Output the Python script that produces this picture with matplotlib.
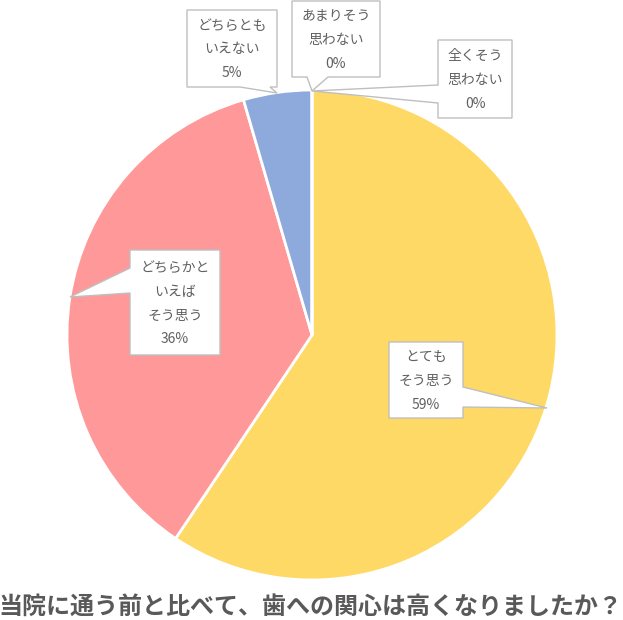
import matplotlib
matplotlib.use("Agg")
import matplotlib.pyplot as plt
from matplotlib.patches import Polygon

plt.rcParams['font.family'] = ['Noto Sans CJK JP', 'DejaVu Sans']

categories = ["とても\nそう思う", "どちらかと\nいえば\nそう思う", "どちらとも\nいえない", "あまりそう\n思わない", "全くそう\n思わない"]
counts = [79, 48, 6, 0, 0]
colors = ["#FFD966", "#FF9999", "#8EA9DB", "#A9D18E", "#F4B183"]
title = "当院に通う前と比べて、歯への関心は高くなりましたか？"

W, H = 623, 620
fig = plt.figure(figsize=(W / 100, H / 100), dpi=100)
ax = fig.add_axes([0, 0, 1, 1])

cx, cy_img, R = 312, 335, 245
ax.pie(counts, colors=colors, startangle=90, counterclock=False,
       center=(cx, H - cy_img), radius=R,
       wedgeprops=dict(edgecolor='white', linewidth=2), frame=True)
ax.set_xlim(0, W)
ax.set_ylim(0, H)
ax.set_aspect('equal')
ax.axis('off')

total = sum(counts)
pcts = [f"{round(c / total * 100)}%" for c in counts]

def callout(box, base, tip, side, text):
    x0, y0, x1, y1 = box
    b0, b1 = base
    if side == 'bottom':
        pts = [(x0, y0), (x1, y0), (x1, y1), (b1, y1), tip, (b0, y1), (x0, y1)]
    elif side == 'left':
        pts = [(x0, y0), (x1, y0), (x1, y1), (x0, y1), (x0, b1), tip, (x0, b0)]
    elif side == 'right':
        pts = [(x0, y0), (x1, y0), (x1, b0), tip, (x1, b1), (x1, y1), (x0, y1)]
    pts = [(x, H - y) for x, y in pts]
    ax.add_patch(Polygon(pts, closed=True, facecolor='white', edgecolor='#BFBFBF',
                         linewidth=1.0, zorder=5))
    ax.text((x0 + x1) / 2, H - (y0 + y1) / 2 - 1, text, ha='center', va='center',
            fontsize=10, color='#606060', linespacing=1.9, zorder=6)

callout((389, 342, 463, 418), (387, 407), (547, 408), 'right', categories[0] + "\n" + pcts[0])
callout((130, 250, 220, 355), (268, 293), (70, 297), 'left', categories[1] + "\n" + pcts[1])
callout((187, 10, 277, 87), (240, 270), (277, 93), 'bottom', categories[2] + "\n" + pcts[2])
callout((292, 1, 380, 77), (307, 328), (312, 91), 'bottom', categories[3] + "\n" + pcts[3])
callout((438, 40, 512, 118), (85, 103), (312, 91), 'left', categories[4] + "\n" + pcts[4])

ax.text(W / 2 - 1, H - 607, title, ha='center', va='center', fontsize=17.3,
        fontweight='bold', color='#595959')

fig.savefig("out.png", dpi=100)
